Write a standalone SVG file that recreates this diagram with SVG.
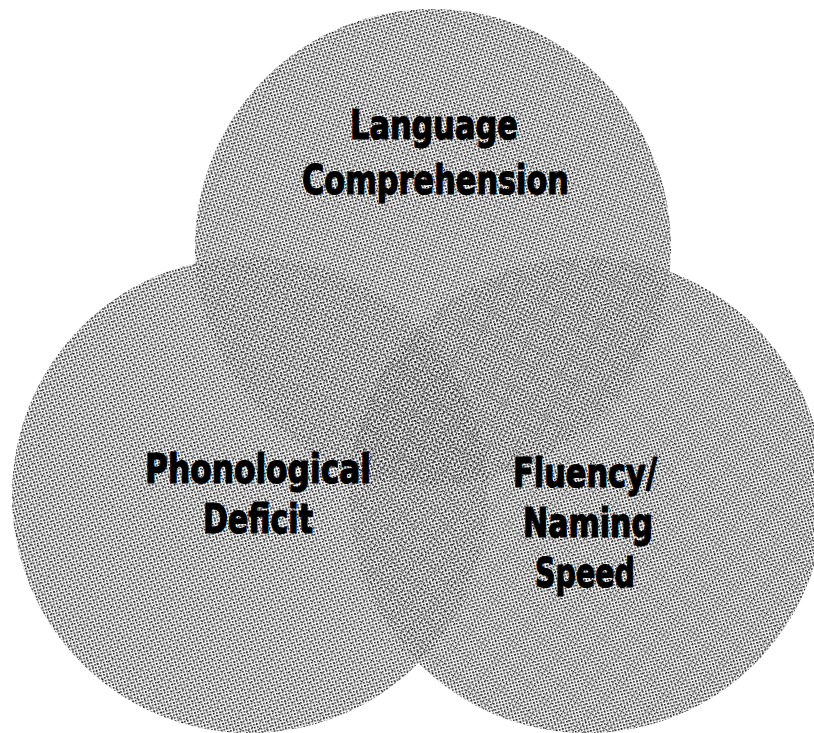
<svg xmlns="http://www.w3.org/2000/svg" width="814" height="733" viewBox="0 0 814 733">
  <style>
    .label { font-family: "Liberation Sans Narrow", "DejaVu Sans Condensed", "Liberation Sans", sans-serif; font-weight: bold; font-size: 41px; fill: #000; stroke: #000; stroke-width: 1.2; stroke-linejoin: round; text-anchor: middle; }
  </style>
  <defs>
    <pattern id="base" width="3" height="3" patternUnits="userSpaceOnUse" patternTransform="rotate(-15)">
      <rect x="0" y="0" width="1.6" height="1.6" fill="#111"/>
    </pattern>
    <pattern id="grainA" width="5" height="5" patternUnits="userSpaceOnUse" patternTransform="rotate(22)">
      <rect x="0" y="0" width="1.3" height="1.3" fill="#111"/>
    </pattern>
    <pattern id="grainB" width="5.2" height="5.2" patternUnits="userSpaceOnUse" patternTransform="rotate(-38)">
      <rect x="0" y="0" width="1.3" height="1.3" fill="#111"/>
    </pattern>
    <pattern id="grainC" width="4.8" height="4.8" patternUnits="userSpaceOnUse" patternTransform="rotate(35)">
      <rect x="0" y="0" width="1.3" height="1.3" fill="#111"/>
    </pattern>
  </defs>
  <rect width="814" height="733" fill="#fff"/>
  <g id="shading">
    <path fill="url(#base)" fill-rule="nonzero" d="M195,247 a238,238 0 1,0 476,0 a238,238 0 1,0 -476,0 Z M12,495 a238,238 0 1,0 476,0 a238,238 0 1,0 -476,0 Z M349,495 a238,238 0 1,0 476,0 a238,238 0 1,0 -476,0 Z"/>
  </g>
  <g id="node-language">
    <circle cx="433" cy="247" r="238" fill="url(#grainA)"/>
  </g>
  <g id="node-phonological">
    <circle cx="250" cy="495" r="238" fill="url(#grainB)"/>
  </g>
  <g id="node-fluency">
    <circle cx="587" cy="495" r="238" fill="url(#grainC)"/>
  </g>
  <g id="connectors"></g>
  <g id="labels">
    <g id="label-language">
      <text class="label" x="434" y="139" textLength="168" lengthAdjust="spacingAndGlyphs">Language</text>
      <text class="label" x="435.5" y="194" textLength="267" lengthAdjust="spacingAndGlyphs">Comprehension</text>
    </g>
    <g id="label-phonological">
      <text class="label" x="258" y="483" textLength="226" lengthAdjust="spacingAndGlyphs">Phonological</text>
      <text class="label" x="258" y="533" textLength="110" lengthAdjust="spacingAndGlyphs">Deficit</text>
    </g>
    <g id="label-fluency">
      <text class="label" x="585" y="487" textLength="144" lengthAdjust="spacingAndGlyphs">Fluency/</text>
      <text class="label" x="588" y="537" textLength="130" lengthAdjust="spacingAndGlyphs">Naming</text>
      <text class="label" x="585" y="587" textLength="100" lengthAdjust="spacingAndGlyphs">Speed</text>
    </g>
  </g>
</svg>
